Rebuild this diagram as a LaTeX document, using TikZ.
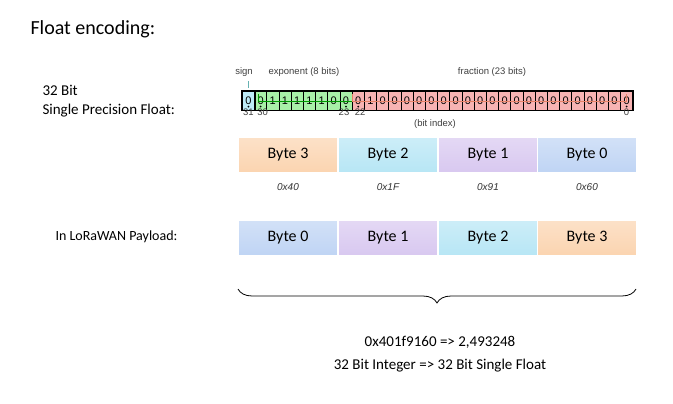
\documentclass[tikz,border=0pt]{standalone}
\usepackage{fontspec}
\setmainfont{Carlito}
\setsansfont{Liberation Sans}
\usetikzlibrary{decorations.pathreplacing}
\definecolor{bsign}{HTML}{BDEBF7}
\definecolor{bexp}{HTML}{A8F0A8}
\definecolor{bfrac}{HTML}{F7B3B3}
\definecolor{cor}{HTML}{FBD4B0}
\definecolor{ccy}{HTML}{B7E6F5}
\definecolor{cpu}{HTML}{D8C8F0}
\definecolor{cbl}{HTML}{BFD4F4}
\begin{document}
\begin{tikzpicture}[x=1pt,y=-1pt,
  bit/.style={draw=black,line width=0.6pt,minimum width=12.2pt,minimum height=19pt,inner sep=0,anchor=north west,font=\sffamily\fontsize{11}{11}\selectfont},
  byte/.style={draw=white,line width=1pt,minimum width=99pt,minimum height=35pt,inner sep=0,anchor=north west,font=\fontsize{16}{16}\selectfont},
  hex/.style={font=\sffamily\itshape\fontsize{10}{10}\selectfont,text=black!80},
  small/.style={font=\sffamily\fontsize{9.5}{9.5}\selectfont,text=black!75},
  lbl/.style={font=\fontsize{15}{19}\selectfont,anchor=west}]
\useasboundingbox (0,0) rectangle (673,404);
\node[anchor=west,font=\fontsize{20}{20}\selectfont] (title) at (27,29) {Float encoding:};
\node[lbl,align=left] (spf) at (39,101) {32 Bit\\Single Precision Float:};
\node[lbl,font=\fontsize{14}{14}\selectfont] (lora) at (52,237) {In LoRaWAN Payload:};
% bits
\def\bits{0,0,1,1,1,1,1,0,0,0,1,0,0,0,0,0,0,0,0,0,0,0,0,0,0,0,0,0,0,0,0,0}
\foreach \b [count=\i from 0] in \bits {
  \ifnum\i=0 \def\fc{bsign}\else\ifnum\i<9 \def\fc{bexp}\else\def\fc{bfrac}\fi\fi
  \node[bit,fill=\fc] (b\i) at (242+\i*12.2,91) {\b};
}
\draw[line width=1.4pt] (b0.north west) rectangle (b31.south east);
\draw[line width=1.4pt] (b0.north east) -- (b0.south east) (b8.north east) -- (b8.south east);
% brackets
\draw[teal!60,line width=0.8pt] (b0.north) ++(0,-3) -- ++(0,-7);
\draw[green!60!black,line width=0.8pt] ([xshift=-2pt,yshift=-3pt]b1.north) |- ([yshift=-10pt]b8.north east) -- ([yshift=-3pt]b8.north east);
\draw[red!40!brown!70,line width=0.8pt] ([yshift=-3pt]b8.north east) -- ([yshift=-10pt]b8.north east) -| ([yshift=-3pt]b31.north);
\node[small] (lsign) at (244,72) {sign};
\node[small] (lexp) at (304,72) {exponent (8 bits)};
\node[small] (lfrac) at (492,72) {fraction (23 bits)};
% indices
\foreach \i in {0,1,8,9,31} {
  \fill ([yshift=4pt]b\i.south) circle (1pt);
}
\node[small,anchor=north] (i31) at ([yshift=5pt]b0.south) {31};
\node[small,anchor=north] (i30) at ([xshift=2pt,yshift=5pt]b1.south) {30};
\node[small,anchor=north] (i23) at ([xshift=-2pt,yshift=5pt]b8.south) {23};
\node[small,anchor=north] (i22) at ([xshift=2pt,yshift=5pt]b9.south) {22};
\node[small,anchor=north] (i0) at ([yshift=5pt]b31.south) {0};
\node[small,anchor=north] (bi) at (435,116) {(bit index)};
% byte rows
\node[byte,top color=cor!70,bottom color=cor] (r3) at (238,137) {Byte 3};
\node[byte,top color=ccy!70,bottom color=ccy] (r2) at (338,137) {Byte 2};
\node[byte,top color=cpu!70,bottom color=cpu] (r1) at (438,137) {Byte 1};
\node[byte,top color=cbl!70,bottom color=cbl] (r0) at (537,137) {Byte 0};
\node[hex] (h3) at (288,187) {0x40};
\node[hex] (h2) at (388,187) {0x1F};
\node[hex] (h1) at (488,187) {0x91};
\node[hex] (h0) at (587,187) {0x60};
\node[byte,top color=cbl!70,bottom color=cbl] (p0) at (238,220) {Byte 0};
\node[byte,top color=cpu!70,bottom color=cpu] (p1) at (338,220) {Byte 1};
\node[byte,top color=ccy!70,bottom color=ccy] (p2) at (438,220) {Byte 2};
\node[byte,top color=cor!70,bottom color=cor] (p3) at (537,220) {Byte 3};
% brace
\coordinate (bl) at (238,289);
\coordinate (br) at (636,289);
\draw[line width=0.8pt,decorate,decoration={brace,amplitude=14pt,mirror}] (bl) -- (br);
\node[font=\fontsize{15}{23}\selectfont,align=center] (res) at (440,354) {0x401f9160 => 2,493248\\32 Bit Integer => 32 Bit Single Float};
\end{tikzpicture}
\end{document}
